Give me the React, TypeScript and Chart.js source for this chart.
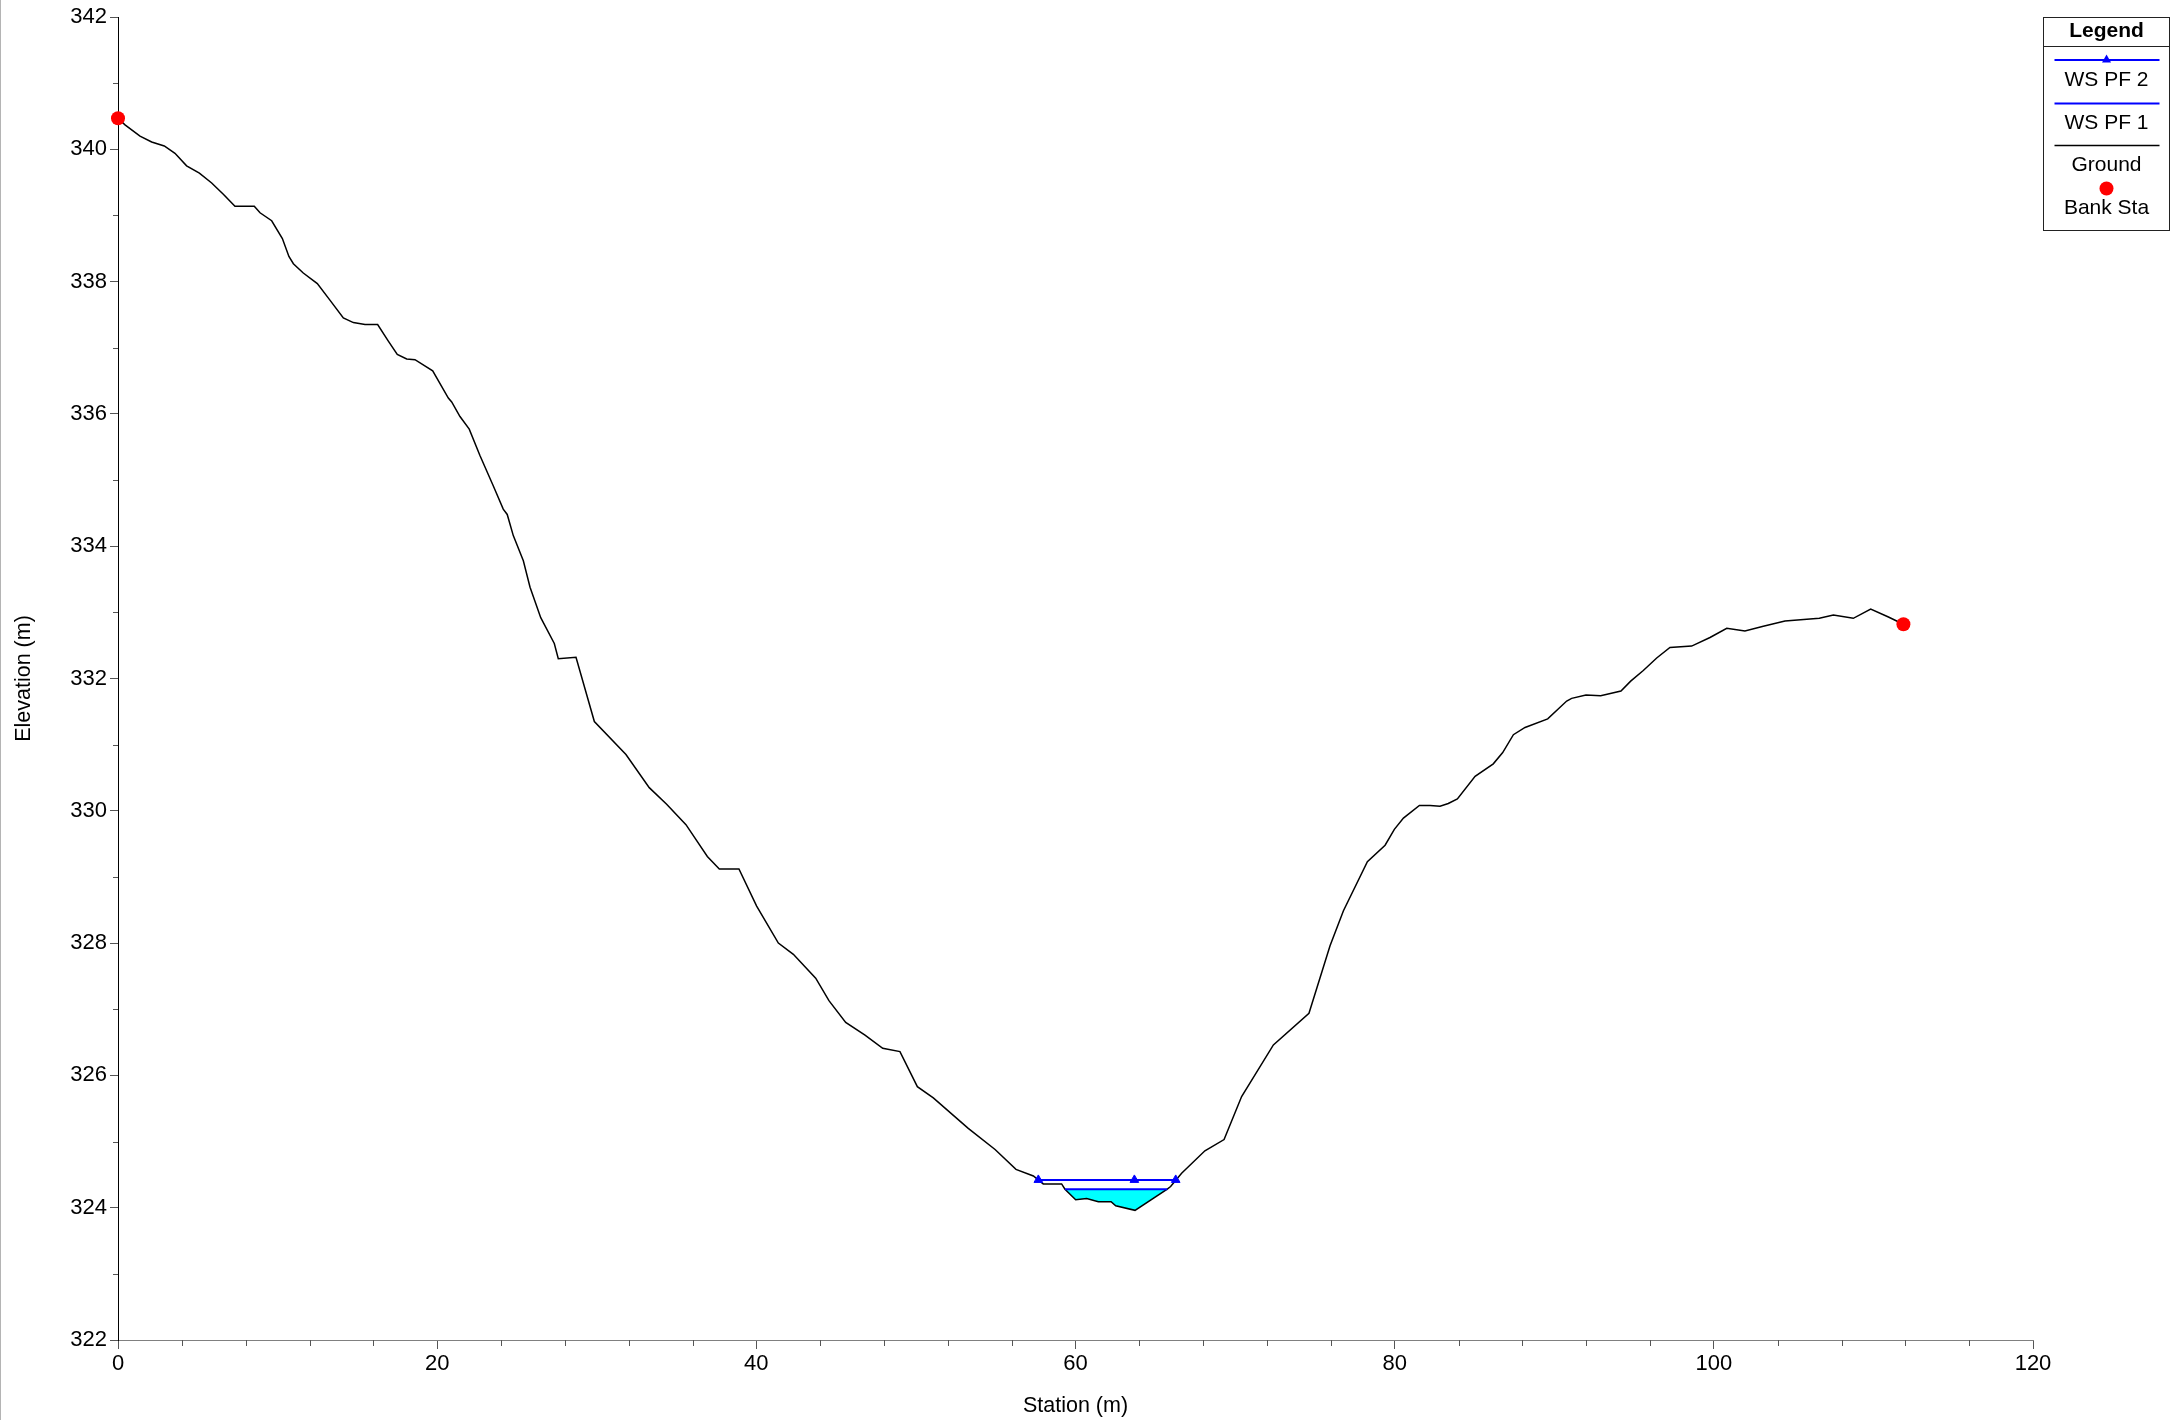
import React, { useEffect, useRef } from "react";
import { Chart, registerables } from "chart.js";

Chart.register(...registerables);

// ---- Data ----
const groundStations = [
  0, 0.44, 1.38, 2.11, 2.9, 3.57, 4.3, 5.1, 5.87, 6.6,
  7.33, 8.54, 8.9, 9.63, 10.3, 10.71, 10.99, 11.61, 12.49, 13.28,
  14.12, 14.75, 15.48, 16.27, 16.94, 17.5, 18.09, 18.61, 19.72, 20.7,
  20.91, 21.43, 22.01, 22.68, 23.52, 24.14, 24.39, 24.77, 25.4, 25.82,
  26.49, 27.34, 27.59, 28.7, 29.85, 31.83, 33.29, 34.38, 35.59, 36.93,
  37.68, 38.91, 40.02, 41.38, 42.32, 43.72, 44.55, 45.6, 46.81, 47.92,
  49.0, 50.09, 51.09, 53.28, 54.96, 56.27, 57.36, 57.98, 59.13, 59.34,
  60.01, 60.7, 61.43, 62.23, 62.52, 63.73, 65.75, 65.96, 66.65, 68.11,
  69.31, 70.41, 72.4, 74.63, 75.95, 76.79, 78.29, 79.4, 79.98, 80.55,
  81.55, 82.22, 82.84, 83.36, 83.93, 85.04, 86.18, 86.77, 87.44, 88.17,
  89.59, 90.78, 91.09, 91.99, 92.91, 94.18, 94.79, 95.58, 96.42, 97.25,
  98.61, 99.76, 100.81, 101.95, 103.1, 104.46, 106.61, 107.49, 108.74, 109.83,
  110.94, 111.88,
];
const groundElevations = [
  340.47, 340.37, 340.2, 340.11, 340.05, 339.94, 339.75, 339.64, 339.49, 339.32,
  339.14, 339.14, 339.04, 338.92, 338.65, 338.38, 338.27, 338.13, 337.97, 337.72,
  337.45, 337.38, 337.35, 337.35, 337.1, 336.9, 336.83, 336.82, 336.65, 336.24,
  336.18, 335.96, 335.77, 335.37, 334.91, 334.56, 334.48, 334.16, 333.78, 333.38,
  332.92, 332.53, 332.3, 332.32, 331.35, 330.85, 330.35, 330.1, 329.79, 329.31,
  329.12, 329.12, 328.56, 328.0, 327.83, 327.47, 327.13, 326.8, 326.61, 326.41,
  326.36, 325.83, 325.66, 325.2, 324.88, 324.58, 324.48, 324.36, 324.36, 324.28,
  324.12, 324.14, 324.09, 324.09, 324.03, 323.96, 324.28, 324.32, 324.52, 324.86,
  325.03, 325.68, 326.46, 326.94, 327.96, 328.49, 329.23, 329.48, 329.72, 329.89,
  330.08, 330.08, 330.07, 330.11, 330.18, 330.52, 330.71, 330.88, 331.15, 331.26,
  331.39, 331.66, 331.7, 331.75, 331.74, 331.81, 331.96, 332.12, 332.31, 332.47,
  332.49, 332.62, 332.76, 332.72, 332.79, 332.87, 332.91, 332.96, 332.91, 333.05,
  332.93, 332.82,
];
const bankStations = [0, 111.88];
const bankElevations = [340.47, 332.82];
const wsPf2Stations = [57.67, 63.69, 66.28];
const wsPf2Elevation = 324.42;
const wsPf1Stations = [59.34, 65.75];
const wsPf1Elevation = 324.28;

const xMin = 0;
const xMax = 120;
const xMajorStep = 20;
const xMinorStep = 4;
const yMin = 322;
const yMax = 342;
const yMajorStep = 2;
const yMinorStep = 1;

const xTitle = "Station (m)";
const yTitle = "Elevation (m)";
const legendTitle = "Legend";
const legendLabels = ["WS PF 2", "WS PF 1", "Ground", "Bank Sta"];

const FONT = "'Liberation Sans', Arial, Helvetica, sans-serif";

const hecPlugin = {
  id: "hecDecor",
  afterDraw(chart: any) {
    const ctx = chart.ctx as CanvasRenderingContext2D;
    const xs = chart.scales.x;
    const ys = chart.scales.y;
    const area = chart.chartArea;
    ctx.save();
    // left page border
    ctx.fillStyle = "#b4b4b4";
    ctx.fillRect(0, 0, 1, chart.height);

    // minor ticks
    ctx.strokeStyle = "#555";
    ctx.lineWidth = 1;
    ctx.beginPath();
    for (let v = xMin; v <= xMax; v += xMinorStep) {
      if (v % xMajorStep === 0) continue;
      const px = Math.round(xs.getPixelForValue(v)) + 0.5;
      ctx.moveTo(px, area.bottom);
      ctx.lineTo(px, area.bottom + 6);
    }
    for (let v = yMin; v <= yMax; v += yMinorStep) {
      if ((v - yMin) % yMajorStep === 0) continue;
      const py = Math.round(ys.getPixelForValue(v)) + 0.5;
      ctx.moveTo(area.left - 5, py);
      ctx.lineTo(area.left, py);
    }
    ctx.stroke();

    // legend box
    const L = Math.round(area.right) + 10.5;
    const R = L + 126;
    const T = Math.round(area.top) + 0.5;
    const B = T + 213;
    const cx = (L + R) / 2;
    ctx.fillStyle = "#fff";
    ctx.fillRect(L, T, R - L, B - T);
    ctx.strokeStyle = "#222";
    ctx.lineWidth = 1;
    ctx.strokeRect(L, T, R - L, B - T);
    ctx.beginPath();
    ctx.moveTo(L, T + 29);
    ctx.lineTo(R, T + 29);
    ctx.stroke();

    ctx.fillStyle = "#000";
    ctx.textAlign = "center";
    ctx.textBaseline = "alphabetic";
    ctx.font = `bold 21px ${FONT}`;
    ctx.fillText(legendTitle, cx, T + 19);

    const lx1 = L + 11;
    const lx2 = R - 10;
    // WS PF 2
    ctx.strokeStyle = "#0000ff";
    ctx.lineWidth = 2;
    ctx.beginPath();
    ctx.moveTo(lx1, T + 42.5);
    ctx.lineTo(lx2, T + 42.5);
    ctx.stroke();
    ctx.fillStyle = "#0000ff";
    ctx.beginPath();
    ctx.moveTo(cx, T + 37);
    ctx.lineTo(cx + 4.5, T + 45);
    ctx.lineTo(cx - 4.5, T + 45);
    ctx.closePath();
    ctx.fill();
    // WS PF 1
    ctx.beginPath();
    ctx.moveTo(lx1, T + 86);
    ctx.lineTo(lx2, T + 86);
    ctx.stroke();
    // Ground
    ctx.strokeStyle = "#000";
    ctx.lineWidth = 1.5;
    ctx.beginPath();
    ctx.moveTo(lx1, T + 128);
    ctx.lineTo(lx2, T + 128);
    ctx.stroke();
    // Bank Sta
    ctx.fillStyle = "#ff0000";
    ctx.beginPath();
    ctx.arc(cx, T + 171, 7, 0, Math.PI * 2);
    ctx.fill();

    ctx.fillStyle = "#000";
    ctx.font = `21px ${FONT}`;
    const baselines = [68.5, 111.5, 153.5, 196];
    legendLabels.forEach((t, i) => ctx.fillText(t, cx, T + baselines[i]));
    ctx.restore();
  },
};

export default function App() {
  const canvasRef = useRef<HTMLCanvasElement | null>(null);

  useEffect(() => {
    const canvas = canvasRef.current;
    if (!canvas) return;

    const ground = groundStations.map((x, i) => ({ x, y: groundElevations[i] }));
    const waterBed = ground.filter((p) => p.x >= wsPf1Stations[0] && p.x <= wsPf1Stations[1]);
    const pf1 = wsPf1Stations.map((x) => ({ x, y: wsPf1Elevation }));
    const pf2 = wsPf2Stations.map((x) => ({ x, y: wsPf2Elevation }));
    const banks = bankStations.map((x, i) => ({ x, y: bankElevations[i] }));

    const chart = new Chart(canvas, {
      type: "line",
      data: {
        datasets: [
          {
            label: "Bank Sta",
            data: banks,
            showLine: false,
            pointRadius: 7,
            pointBackgroundColor: "#ff0000",
            pointBorderColor: "#ff0000",
            pointBorderWidth: 0,
            clip: false,
            order: 0,
          },
          {
            label: "WS PF 2",
            data: pf2,
            borderColor: "#0000ff",
            borderWidth: 2,
            pointStyle: "triangle",
            pointRadius: 5,
            pointBackgroundColor: "#0000ff",
            pointBorderColor: "#0000ff",
            pointBorderWidth: 1,
            fill: false,
            order: 1,
          },
          {
            label: "WS PF 1",
            data: pf1,
            borderColor: "#0000ff",
            borderWidth: 2,
            pointRadius: 0,
            fill: false,
            order: 2,
          },
          {
            label: "Ground",
            data: ground,
            borderColor: "#000000",
            borderWidth: 1.5,
            pointRadius: 0,
            tension: 0,
            fill: false,
            order: 3,
          },
          {
            label: "WS PF 1 fill",
            data: waterBed,
            borderWidth: 0,
            borderColor: "rgba(0,0,0,0)",
            pointRadius: 0,
            backgroundColor: "#00ffff",
            fill: { target: { value: wsPf1Elevation }, above: "#00ffff", below: "#00ffff" },
            order: 4,
          },
        ],
      },
      options: {
        responsive: false,
        animation: false,
        events: [],
        layout: { padding: { left: 0, right: 146, top: 17, bottom: 0 } },
        plugins: {
          legend: { display: false },
          tooltip: { enabled: false },
        },
        scales: {
          x: {
            type: "linear",
            min: xMin,
            max: xMax,
            afterFit: (scale: any) => {
              scale.height = 80;
            },
            border: { display: true, color: "#808080", width: 1 },
            grid: {
              display: true,
              drawOnChartArea: false,
              drawTicks: true,
              tickLength: 9,
              tickColor: "#555",
            },
            ticks: {
              stepSize: xMajorStep,
              autoSkip: false,
              maxRotation: 0,
              padding: 2,
              color: "#000",
              font: { family: FONT, size: 22 },
            },
            title: {
              display: true,
              text: xTitle,
              color: "#000",
              font: { family: FONT, size: 21.5 },
              padding: { top: 0, bottom: 1 },
            },
          },
          y: {
            type: "linear",
            min: yMin,
            max: yMax,
            afterFit: (scale: any) => {
              scale.width = 118;
            },
            border: { display: true, color: "#000", width: 1 },
            grid: {
              display: true,
              drawOnChartArea: false,
              drawTicks: true,
              tickLength: 8,
              tickColor: "#555",
            },
            ticks: {
              stepSize: yMajorStep,
              autoSkip: false,
              padding: 3,
              color: "#000",
              font: { family: FONT, size: 22 },
            },
            title: {
              display: true,
              text: yTitle,
              color: "#000",
              font: { family: FONT, size: 21.5 },
              padding: { top: 11, bottom: 0 },
            },
          },
        },
      },
      plugins: [hecPlugin],
    });

    return () => chart.destroy();
  }, []);

  return (
    <div style={{ position: "fixed", left: 0, top: 0, width: 2179, height: 1420, background: "#fff" }}>
      <canvas ref={canvasRef} width={2179} height={1420} style={{ display: "block", width: 2179, height: 1420 }} />
    </div>
  );
}
